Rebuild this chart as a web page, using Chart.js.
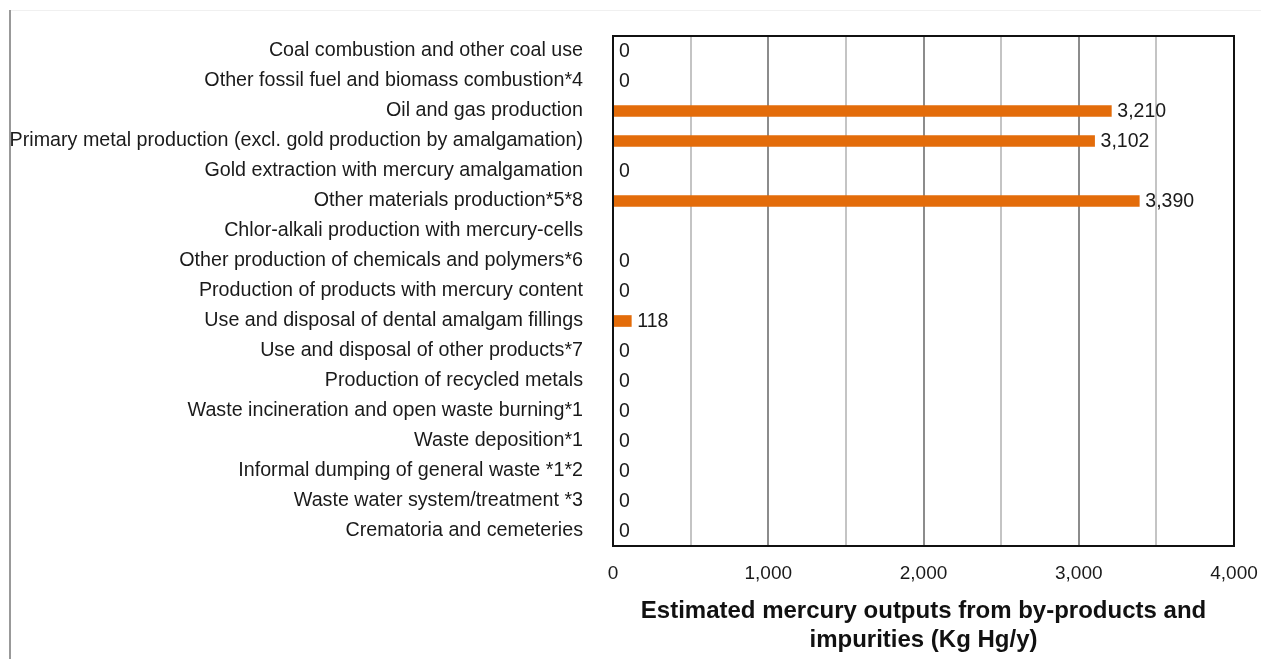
<!DOCTYPE html>
<html>
<head>
<meta charset="utf-8">
<script src="https://cdn.jsdelivr.net/npm/chart.js@4/dist/chart.umd.min.js"></script>
<style>
    html, body { margin: 0; padding: 0; background: #fff; }
    #wrap { position: relative; width: 1261px; height: 659px; }
    #edge { position: absolute; left: 9px; top: 10px; bottom: 0; border-left: 2px solid #999; }
    #topline { position: absolute; left: 11px; right: 0; top: 10px; border-top: 1px solid #f0f0f0; }
    canvas { position: absolute; left: 0; top: 0; }
</style>
</head>
<body>
<div id="wrap">
    <div id="edge"></div>
    <div id="topline"></div>
    <canvas id="chart" width="1261" height="659"></canvas>
</div>
<script>
// ── Data ─────────────────────────────────────────────────
const categories = [
    'Coal combustion and other coal use',
    'Other fossil fuel and biomass combustion*4',
    'Oil and gas production',
    'Primary metal production (excl. gold production by amalgamation)',
    'Gold extraction with mercury amalgamation',
    'Other materials production*5*8',
    'Chlor-alkali production with mercury-cells',
    'Other production of chemicals and polymers*6',
    'Production of products with mercury content',
    'Use and disposal of dental amalgam fillings',
    'Use and disposal of other products*7',
    'Production of recycled metals',
    'Waste incineration and open waste burning*1',
    'Waste deposition*1',
    'Informal dumping of general waste *1*2',
    'Waste water system/treatment *3',
    'Crematoria and cemeteries'
];
const outputs = [0, 0, 3210, 3102, 0, 3390, null, 0, 0, 118, 0, 0, 0, 0, 0, 0, 0];
const xTicks = [0, 1000, 2000, 3000, 4000];
const axisTitle = ['Estimated mercury outputs from by-products and', 'impurities (Kg Hg/y)'];

const FONT = 'Liberation Sans, Arial, sans-serif';
const fmt = v => v.toLocaleString('en-US');

// ── Plugins ──────────────────────────────────────────────
const boxBorder = {
    id: 'boxBorder',
    afterDraw(chart) {
        const { ctx, chartArea: a } = chart;
        ctx.save();
        ctx.strokeStyle = '#111';
        ctx.lineWidth = 2;
        ctx.strokeRect(a.left, a.top, a.right - a.left, a.bottom - a.top);
        ctx.restore();
    }
};

const valueLabels = {
    id: 'valueLabels',
    afterDatasetsDraw(chart) {
        const { ctx } = chart;
        const meta = chart.getDatasetMeta(0);
        ctx.save();
        ctx.font = '19.5px ' + FONT;
        ctx.fillStyle = '#1a1a1a';
        ctx.textAlign = 'left';
        ctx.textBaseline = 'middle';
        meta.data.forEach((bar, i) => {
            const v = outputs[i];
            if (v === null || v === undefined) return;
            ctx.fillText(fmt(v), bar.x + 6, bar.y + 1);
        });
        ctx.restore();
    }
};

// ── Chart ────────────────────────────────────────────────
new Chart(document.getElementById('chart'), {
    type: 'bar',
    data: {
        labels: categories,
        datasets: [{
            data: outputs,
            backgroundColor: '#E36C0A',
            borderWidth: 0,
            barThickness: 11
        }]
    },
    options: {
        indexAxis: 'y',
        responsive: false,
        animation: false,
        layout: { padding: { top: 36, right: 27, left: 0, bottom: 0 } },
        plugins: { legend: { display: false }, tooltip: { enabled: false } },
        scales: {
            x: {
                min: 0,
                max: 4000,
                afterBuildTicks: s => { s.ticks = []; for (let v = 0; v <= 4000; v += 500) s.ticks.push({ value: v }); },
                afterFit: s => { s.height = 113; s.paddingRight = 0; s.paddingLeft = 0; },
                border: { display: false },
                grid: {
                    drawTicks: false,
                    lineWidth: 2,
                    color: c => (c.tick && c.tick.value % 1000 === 0) ? '#8c8c8c' : '#c4c4c4'
                },
                ticks: {
                    padding: 16,
                    maxRotation: 0,
                    autoSkip: false,
                    color: '#1a1a1a',
                    font: { family: FONT, size: 19 },
                    callback: v => xTicks.includes(v) ? fmt(v) : ''
                },
                title: {
                    display: true,
                    text: axisTitle,
                    color: '#111',
                    font: { family: FONT, size: 24, weight: 'bold', lineHeight: 1.2 },
                    padding: { top: 12 }
                }
            },
            y: {
                afterFit: s => { s.width = 613; s.paddingTop = 0; s.paddingBottom = 0; },
                border: { display: false },
                grid: { display: false },
                ticks: {
                    padding: 22,
                    autoSkip: false,
                    color: '#1a1a1a',
                    font: { family: FONT, size: 19.7 }
                }
            }
        }
    },
    plugins: [boxBorder, valueLabels]
});
</script>
</body>
</html>
